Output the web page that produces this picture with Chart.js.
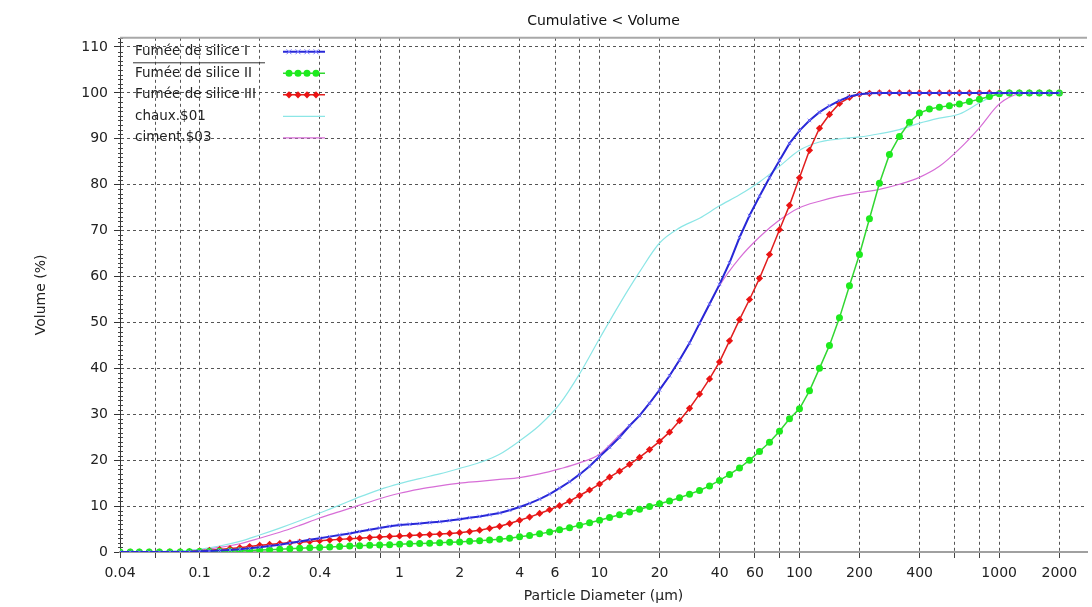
<!DOCTYPE html>
<html>
<head>
<meta charset="utf-8">
<script src="https://cdn.jsdelivr.net/npm/chart.js@4.4.1/dist/chart.umd.min.js"></script>
<style>
  html, body { margin: 0; padding: 0; background: #fff; }
</style>
</head>
<body>
<canvas id="chart" width="1092" height="607"></canvas>
<script>
// particle size classes (µm), 20 per decade
const sizes = [
  0.040, 0.045, 0.050, 0.056, 0.063, 0.071, 0.080, 0.089,
  0.100, 0.112, 0.126, 0.142, 0.159, 0.178, 0.200, 0.224, 0.252, 0.283, 0.317, 0.356, 0.399, 0.448, 0.502, 0.564, 0.632, 0.710, 0.796, 0.893,
  1.002, 1.125, 1.262, 1.416, 1.589, 1.783, 2.000, 2.244, 2.518, 2.825, 3.170, 3.557, 3.991, 4.477, 5.024, 5.637, 6.325, 7.096, 7.962, 8.934,
  10.024, 11.247, 12.619, 14.159, 15.887, 17.825, 20.000, 22.440, 25.179, 28.251, 31.698, 35.566, 39.905, 44.774, 50.238, 56.368, 63.246, 70.963, 79.621, 89.337,
  100.237, 112.468, 126.191, 141.589, 158.866, 178.250, 200.000, 224.404, 251.785, 282.508, 316.979, 355.656, 399.052, 447.744, 502.377, 563.677, 632.456, 709.627, 796.214, 893.367,
  1002.374, 1124.683, 1261.915, 1415.892, 1588.656, 1782.502, 2000.000
];

const silice1 = [
  0, 0, 0, 0, 0, 0, 0.02, 0.05,
  0.15, 0.22, 0.32, 0.45, 0.6, 0.8, 1.05, 1.3, 1.6, 1.95, 2.3, 2.65, 3.0, 3.35, 3.7, 4.05, 4.45, 4.85, 5.25, 5.6,
  5.9, 6.05, 6.2, 6.4, 6.6, 6.85, 7.15, 7.45, 7.75, 8.1, 8.5, 9.1, 9.8, 10.6, 11.5, 12.6, 13.9, 15.3, 16.9, 18.7,
  20.8, 22.8, 25.0, 27.5, 29.7, 32.4, 35.3, 38.4, 41.8, 45.5, 49.8, 54.0, 58.3, 63.0, 68.5, 73.3, 77.5, 81.5, 85.3, 89.0,
  91.8, 94.0, 95.8, 97.2, 98.3, 99.2, 99.7, 99.9, 100, 100, 100, 100, 100, 100, 100, 100, 100, 100, 100, 100,
  100, 100, 100, 100, 100, 100, 100
];

const silice2 = [
  0, 0, 0, 0, 0, 0, 0.02, 0.05,
  0.1, 0.13, 0.17, 0.22, 0.28, 0.34, 0.42, 0.5, 0.6, 0.7, 0.8, 0.9, 1.0, 1.1, 1.2, 1.3, 1.38, 1.45, 1.52, 1.6,
  1.7, 1.77, 1.84, 1.92, 2.0, 2.1, 2.2, 2.32, 2.45, 2.6, 2.78, 3.0, 3.3, 3.6, 3.95, 4.35, 4.85, 5.3, 5.85, 6.35,
  6.9, 7.5, 8.1, 8.7, 9.3, 9.9, 10.5, 11.1, 11.8, 12.6, 13.4, 14.4, 15.6, 16.9, 18.3, 20.0, 21.9, 23.9, 26.3, 29.0,
  31.2, 35.1, 40.0, 45.0, 51.0, 58.0, 64.8, 72.6, 80.3, 86.6, 90.5, 93.6, 95.6, 96.5, 96.9, 97.2, 97.6, 98.1, 98.6, 99.2,
  99.8, 100, 100, 100, 100, 100, 100
];

const silice3 = [
  0, 0, 0, 0, 0, 0.02, 0.05, 0.1,
  0.25, 0.38, 0.55, 0.75, 0.95, 1.2, 1.45, 1.65, 1.85, 2.0, 2.15, 2.3, 2.45, 2.6, 2.75, 2.9, 3.0, 3.15, 3.25, 3.4,
  3.5, 3.6, 3.7, 3.8, 3.9, 4.05, 4.2, 4.45, 4.75, 5.15, 5.6, 6.2, 6.9, 7.6, 8.4, 9.2, 10.1, 11.1, 12.3, 13.5,
  14.8, 16.3, 17.6, 19.1, 20.6, 22.3, 24.1, 26.1, 28.6, 31.3, 34.4, 37.7, 41.4, 46.0, 50.6, 55.0, 59.6, 64.8, 70.2, 75.5,
  81.5, 87.5, 92.3, 95.3, 97.7, 99.0, 99.7, 99.9, 100, 100, 100, 100, 100, 100, 100, 100, 100, 100, 100, 100,
  100, 100, 100, 100, 100, 100, 100
];

// the two reference powders, read every other class
const sizesCoarse = [
  0.040, 0.050, 0.063, 0.080,
  0.100, 0.126, 0.159, 0.200, 0.252, 0.317, 0.399, 0.502, 0.632, 0.796,
  1.002, 1.262, 1.589, 2.000, 2.518, 3.170, 3.991, 5.024, 6.325, 7.962,
  10.024, 12.619, 15.887, 20.000, 25.179, 31.698, 39.905, 50.238, 63.246, 79.621,
  100.237, 126.191, 158.866, 200.000, 251.785, 316.979, 399.052, 502.377, 632.456, 796.214,
  1002.374, 1261.915, 1588.656, 2000.000
];

const chaux = [
  0, 0.05, 0.1, 0.25,
  0.6, 1.3, 2.3, 3.7, 5.2, 6.8, 8.5, 10.2, 12.0, 13.6,
  14.9, 16.0, 17.0, 18.2, 19.5, 21.3, 24.2, 27.6, 32.2, 38.8,
  46.5, 54.0, 61.0, 67.3, 70.6, 72.7, 75.4, 77.8, 80.6, 84.0,
  87.5, 89.3, 90.0, 90.4, 91.1, 92.0, 93.4, 94.5, 95.4, 97.8,
  99.8, 100, 100, 100
];

const ciment = [
  0, 0.05, 0.1, 0.2,
  0.45, 1.0, 1.8, 3.0, 4.3, 5.8, 7.4, 8.8, 10.2, 11.6,
  12.8, 13.7, 14.4, 15.0, 15.4, 15.8, 16.2, 17.0, 18.1, 19.4,
  21.3, 25.5, 29.8, 35.3, 41.8, 49.6, 58.0, 64.0, 68.6, 72.3,
  75.0, 76.4, 77.5, 78.3, 79.0, 80.1, 81.6, 84.0, 87.8, 92.4,
  97.6, 99.8, 100, 100
];

const xGrid = [0.04, 0.06, 0.08, 0.1, 0.2, 0.4, 0.6, 0.8, 1, 2, 4, 6, 8, 10, 20, 40, 60, 80, 100, 200, 400, 600, 800, 1000, 2000];
const xLabels = [0.04, 0.1, 0.2, 0.4, 1, 2, 4, 6, 10, 20, 40, 60, 100, 200, 400, 1000, 2000];
const yTicks = [0, 10, 20, 30, 40, 50, 60, 70, 80, 90, 100, 110];

const FONT = '"DejaVu Sans", Verdana, sans-serif';

function pts(xs, ys) {
  return xs.map((x, i) => ({ x: x, y: ys[i] }));
}

function drawMarker(ctx, style, x, y, r, color) {
  ctx.fillStyle = color;
  ctx.strokeStyle = color;
  ctx.beginPath();
  if (style === 'circle') {
    ctx.arc(x, y, r, 0, Math.PI * 2);
    ctx.fill();
  } else if (style === 'rectRot') {
    ctx.moveTo(x, y - r); ctx.lineTo(x + r, y); ctx.lineTo(x, y + r); ctx.lineTo(x - r, y);
    ctx.closePath();
    ctx.fill();
  } else {
    ctx.lineWidth = 1;
    ctx.moveTo(x - r, y - r); ctx.lineTo(x + r, y + r);
    ctx.moveTo(x - r, y + r); ctx.lineTo(x + r, y - r);
    ctx.stroke();
  }
}

// short ruler marks on the value axis + top frame
const axisDecor = {
  id: 'axisDecor',
  beforeDatasetsDraw(chart) {
    const { ctx, chartArea } = chart;
    const y = chart.scales.y;
    ctx.save();
    ctx.strokeStyle = '#444';
    ctx.lineWidth = 1;
    ctx.beginPath();
    for (let v = 1; v <= 112; v++) {
      if (v % 10 === 0) continue;
      const py = Math.round(y.getPixelForValue(v)) + 0.5;
      ctx.moveTo(chartArea.left - 2, py);
      ctx.lineTo(chartArea.left + 3, py);
    }
    ctx.stroke();
    ctx.strokeStyle = '#a8a8a8';
    ctx.lineWidth = 2;
    ctx.beginPath();
    ctx.moveTo(chartArea.left, chartArea.top);
    ctx.lineTo(chartArea.right, chartArea.top);
    ctx.stroke();
    ctx.restore();
  }
};

// legend drawn inside the plot, top left
const insideLegend = {
  id: 'insideLegend',
  afterDatasetsDraw(chart) {
    const { ctx, chartArea } = chart;
    const x0 = chartArea.left + 15;
    const y0 = chartArea.top + 14;
    ctx.save();
    ctx.font = '13.5px ' + FONT;
    ctx.textBaseline = 'middle';
    chart.data.datasets.forEach((ds, i) => {
      const y = y0 + i * 21.5;
      ctx.fillStyle = '#222';
      ctx.fillText(ds.label, x0, y);
      const lx = chartArea.left + 163;
      ctx.strokeStyle = ds.borderColor;
      ctx.lineWidth = ds.borderWidth;
      ctx.beginPath();
      ctx.moveTo(lx, y);
      ctx.lineTo(lx + 42, y);
      ctx.stroke();
      if (ds.pointRadius > 0) {
        for (let k = 0; k < 4; k++) {
          drawMarker(ctx, ds.pointStyle, lx + 6 + k * 9, y, ds.pointRadius, ds.pointBackgroundColor);
        }
      }
      if (i === 0) {
        ctx.strokeStyle = '#333';
        ctx.lineWidth = 1;
        ctx.beginPath();
        ctx.moveTo(x0 - 2, y + 11);
        ctx.lineTo(x0 + 130, y + 11);
        ctx.stroke();
      }
    });
    ctx.restore();
  }
};

new Chart(document.getElementById('chart'), {
  type: 'line',
  data: {
    datasets: [
      {
        label: 'Fumée de silice I',
        data: pts(sizes, silice1),
        borderColor: 'rgb(40,40,215)',
        borderWidth: 2,
        pointStyle: 'crossRot',
        pointRadius: 2.5,
        pointBorderWidth: 1,
        pointBorderColor: 'rgb(120,120,255)',
        pointBackgroundColor: 'rgb(120,120,255)'
      },
      {
        label: 'Fumée de silice II',
        data: pts(sizes, silice2),
        borderColor: 'rgb(50,215,50)',
        borderWidth: 1.5,
        pointStyle: 'circle',
        pointRadius: 3.5,
        pointBorderWidth: 0,
        pointBackgroundColor: 'rgb(30,235,30)'
      },
      {
        label: 'Fumée de silice III',
        data: pts(sizes, silice3),
        borderColor: 'rgb(225,30,30)',
        borderWidth: 1.5,
        pointStyle: 'rectRot',
        pointRadius: 3.6,
        pointBorderWidth: 0,
        pointBackgroundColor: 'rgb(235,20,20)'
      },
      {
        label: 'chaux.$01',
        data: pts(sizesCoarse, chaux),
        borderColor: 'rgb(140,230,230)',
        borderWidth: 1.2,
        pointRadius: 0,
        cubicInterpolationMode: 'monotone'
      },
      {
        label: 'ciment.$03',
        data: pts(sizesCoarse, ciment),
        borderColor: 'rgb(215,110,215)',
        borderWidth: 1.2,
        pointRadius: 0,
        cubicInterpolationMode: 'monotone'
      }
    ]
  },
  options: {
    responsive: false,
    animation: false,
    layout: { padding: 0 },
    plugins: {
      legend: { display: false },
      tooltip: { enabled: false },
      title: {
        display: true,
        text: 'Cumulative < Volume',
        fullSize: false,
        color: '#111',
        font: { size: 14, family: FONT, weight: 'normal' },
        padding: { top: 13, bottom: 8 }
      }
    },
    scales: {
      x: {
        type: 'logarithmic',
        min: 0.04,
        max: 2750,
        afterBuildTicks: (s) => { s.ticks = xGrid.map(v => ({ value: v })); },
        afterFit: (s) => { s.height = 55; },
        ticks: {
          autoSkip: false,
          maxRotation: 0,
          color: '#222',
          padding: 7,
          font: { size: 14, family: FONT },
          callback: (v) => xLabels.includes(v) ? String(v) : ''
        },
        grid: {
          color: 'rgba(55,55,55,0.85)',
          tickLength: 6,
          tickColor: '#444',
          tickBorderDash: []
        },
        border: { display: true, color: '#a0a0a0', width: 2, dash: [3, 3] },
        title: {
          display: true,
          text: 'Particle Diameter (µm)',
          color: '#222',
          font: { size: 14, family: FONT },
          padding: { top: 0, bottom: 2 }
        }
      },
      y: {
        min: 0,
        max: 112,
        afterBuildTicks: (s) => { s.ticks = yTicks.map(v => ({ value: v })); },
        afterFit: (s) => { s.width = 120; },
        ticks: {
          color: '#222',
          padding: 6,
          font: { size: 14, family: FONT }
        },
        grid: {
          color: 'rgba(55,55,55,0.85)',
          tickLength: 6,
          tickColor: '#333',
          tickBorderDash: []
        },
        border: { display: true, color: '#333', width: 1, dash: [3, 3] },
        title: {
          display: true,
          text: 'Volume (%)',
          color: '#222',
          font: { size: 14, family: FONT },
          padding: { top: 33, bottom: 0 }
        }
      }
    }
  },
  plugins: [axisDecor, insideLegend]
});
</script>
</body>
</html>
